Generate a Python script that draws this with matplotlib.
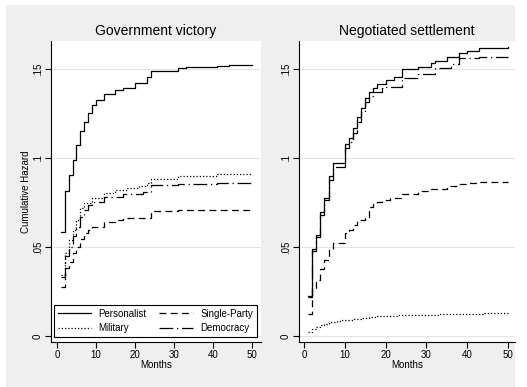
#!/usr/bin/env python3
"""
Cumulative hazard of conflict termination by regime type (Stata-style plot).

Two panels: government victory and negotiated settlement.
Output: out.png (527x387 px)
"""

import matplotlib
matplotlib.use("Agg")
import matplotlib.pyplot as plt
from matplotlib.patches import Rectangle
from matplotlib.lines import Line2D

# ---------------------------------------------------------------------------
# Data
# ---------------------------------------------------------------------------
panel_titles = ["Government victory", "Negotiated settlement"]
series_names = ["Personalist", "Military", "Single-Party", "Democracy"]

y_ticks = [0, 0.05, 0.10, 0.15]
y_tick_labels = ["0", ".05", ".1", ".15"]
x_ticks = [0, 10, 20, 30, 40, 50]

# Government victory
gv_personalist_t = [1, 2, 3, 4, 5, 6, 7, 8, 9, 10, 12, 15, 17, 20, 23, 24, 31, 33, 41, 44, 50]
gv_personalist_h = [0.0586, 0.0816, 0.0904, 0.0989, 0.1073, 0.115, 0.120, 0.125, 0.130,
                    0.1324, 0.136, 0.138, 0.1395, 0.142, 0.1457, 0.149, 0.1507, 0.1513,
                    0.1518, 0.1522, 0.1522]

gv_military_t = [1, 2, 3, 4, 5, 6, 7, 9, 12, 15, 18, 21, 23, 24, 31, 41, 50]
gv_military_h = [0.0343, 0.0464, 0.054, 0.0596, 0.065, 0.0717, 0.0745, 0.0773, 0.0806,
                 0.082, 0.083, 0.0843, 0.0858, 0.0882, 0.0899, 0.0908, 0.0908]

gv_single_t = [1, 2, 3, 4, 5, 6, 7, 8, 9, 12, 15, 17, 24, 31, 50]
gv_single_h = [0.0277, 0.038, 0.0418, 0.0465, 0.0502, 0.0545, 0.058, 0.0596, 0.061,
               0.0643, 0.065, 0.0661, 0.0702, 0.0705, 0.0708]

gv_democracy_t = [1, 2, 3, 4, 5, 6, 7, 8, 9, 12, 17, 22, 24, 31, 41, 50]
gv_democracy_h = [0.0333, 0.045, 0.050, 0.056, 0.061, 0.067, 0.0708, 0.0736, 0.0755,
                  0.078, 0.0798, 0.0811, 0.0848, 0.0855, 0.0862, 0.0865]

# Negotiated settlement
ns_personalist_t = [1, 2, 3, 4, 5, 6, 7, 10, 11, 12, 13, 14, 15, 16, 17, 18, 20, 22, 24,
                    28, 31, 32, 35, 38, 40, 43, 50]
ns_personalist_h = [0.0225, 0.0487, 0.0567, 0.0698, 0.0777, 0.0899, 0.0974, 0.1077, 0.1111,
                    0.1167, 0.1232, 0.1283, 0.1339, 0.1369, 0.1391, 0.1414, 0.1438, 0.1457,
                    0.1498, 0.1513, 0.1532, 0.1545, 0.1569, 0.1588, 0.1603, 0.1616, 0.1622]

ns_military_t = [1, 2, 3, 4, 5, 6, 7, 8, 9, 10, 12, 14, 16, 18, 20, 23, 26, 30, 33, 38,
                 42, 44, 50]
ns_military_h = [0.0024, 0.0040, 0.0052, 0.0062, 0.0070, 0.0076, 0.0080, 0.0084, 0.0088,
                 0.0091, 0.0096, 0.0102, 0.0106, 0.0110, 0.0114, 0.0116, 0.0119, 0.0120,
                 0.0123, 0.0124, 0.0126, 0.0128, 0.0128]

ns_single_t = [1, 2, 3, 4, 5, 6, 7, 10, 11, 12, 13, 15, 16, 17, 18, 19, 21, 24, 28, 31,
               35, 38, 40, 43, 50]
ns_single_h = [0.0124, 0.0266, 0.0315, 0.0379, 0.0427, 0.0487, 0.0524, 0.058, 0.0596,
               0.0624, 0.065, 0.0665, 0.0723, 0.0742, 0.0755, 0.0764, 0.0777, 0.080,
               0.0817, 0.0826, 0.0845, 0.0854, 0.0862, 0.0866, 0.0866]

ns_democracy_t = [1, 2, 3, 4, 5, 6, 7, 10, 11, 12, 13, 14, 15, 16, 17, 19, 20, 24, 28,
                  32, 36, 38, 43, 50]
ns_democracy_h = [0.022, 0.0475, 0.0555, 0.068, 0.0764, 0.0876, 0.0947, 0.1054, 0.1092,
                  0.114, 0.120, 0.126, 0.1316, 0.135, 0.1373, 0.1391, 0.140, 0.1451,
                  0.147, 0.1504, 0.1526, 0.156, 0.1569, 0.1569]

# Line styles mimic Stata's solid / dot / dash / longdash_dot
STYLES = {
    "Personalist": "-",
    "Military": (0, (1.0, 1.6)),
    "Single-Party": (0, (5.5, 3.5)),
    "Democracy": (0, (11, 3, 1, 3)),
}

FONT = "Liberation Sans"
BG_GRAY = "#efefef"
GRID_GRAY = "#e4e4e4"


def setup_axes(ax, title, xlim, ylabel=None):
    """Apply the Stata-like look to one panel."""
    ax.set_facecolor("white")
    ax.set_xlim(*xlim)
    ax.set_ylim(-0.00337, 0.1657)

    for side in ("top", "right"):
        ax.spines[side].set_visible(False)
    for side in ("left", "bottom"):
        ax.spines[side].set_linewidth(0.8)
        ax.spines[side].set_color("black")

    ax.set_yticks(y_ticks)
    ax.set_yticklabels(y_tick_labels, rotation=90, va="center", fontsize=7, family=FONT)
    ax.set_xticks(x_ticks)
    ax.set_xticklabels([str(t) for t in x_ticks], fontsize=7, family=FONT)
    ax.tick_params(axis="both", direction="out", length=4, width=0.8, pad=2, colors="black")

    ax.yaxis.grid(True, color=GRID_GRAY, linewidth=0.8)
    ax.set_axisbelow(True)

    ax.set_title(title, fontsize=10, family=FONT, pad=4)
    ax.set_xlabel("Months", fontsize=7, family=FONT, labelpad=0)
    if ylabel:
        ax.set_ylabel(ylabel, fontsize=7, family=FONT, labelpad=1)


def draw_series(ax, curves):
    """Draw the step curves for one panel."""
    for name, (t, h) in zip(series_names, curves):
        ax.step(t, h, where="post", color="black", linewidth=0.9,
                linestyle=STYLES[name], label=name)


def main():
    fig = plt.figure(figsize=(5.27, 3.87), dpi=100)
    fig.patch.set_facecolor("white")

    # gray graph region (leaves a thin white margin left/top/right like the export)
    bg = Rectangle((6 / 527, 0), (515 - 6) / 527, (387 - 5) / 387,
                   transform=fig.transFigure, facecolor=BG_GRAY,
                   edgecolor="none", zorder=-10)
    fig.patches.append(bg)

    ax1 = fig.add_axes([51 / 527, 45 / 387, 210 / 527, 301 / 387])
    ax2 = fig.add_axes([299 / 527, 45 / 387, 216 / 527, 301 / 387])
    ax1.set_zorder(1)
    ax2.set_zorder(1)

    setup_axes(ax1, panel_titles[0], (-1.53, 52.3), ylabel="Cumulative Hazard")
    setup_axes(ax2, panel_titles[1], (-1.23, 51.7))

    draw_series(ax1, [(gv_personalist_t, gv_personalist_h),
                      (gv_military_t, gv_military_h),
                      (gv_single_t, gv_single_h),
                      (gv_democracy_t, gv_democracy_h)])
    draw_series(ax2, [(ns_personalist_t, ns_personalist_h),
                      (ns_military_t, ns_military_h),
                      (ns_single_t, ns_single_h),
                      (ns_democracy_t, ns_democracy_h)])

    # Legend sits inside the left panel, two columns
    handles = [Line2D([], [], color="black", linewidth=0.9, linestyle=STYLES[n])
               for n in series_names]
    leg = ax1.legend(handles, series_names, ncol=2, loc="lower left",
                     bbox_to_anchor=(0.0143, 0.0166), borderaxespad=0,
                     prop={"family": FONT, "size": 7},
                     handlelength=3.4, handletextpad=0.8, columnspacing=1.3,
                     labelspacing=0.45, borderpad=0.4,
                     fancybox=False, framealpha=1, edgecolor="black")
    leg.get_frame().set_linewidth(0.8)

    fig.savefig("out.png", dpi=100, facecolor=fig.get_facecolor())
    return 0


if __name__ == "__main__":
    main()
